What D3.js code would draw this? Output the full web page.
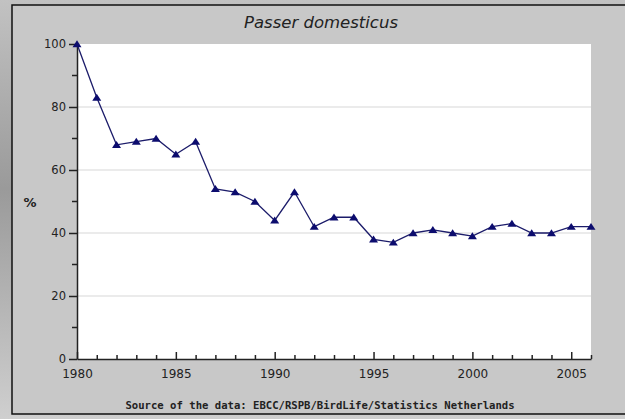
<meta charset="utf-8">
<title>Passer domesticus</title>
<style>
  body { margin: 0; background: #9c9c9c; }
  svg { display: block; }
</style>
<svg width="625" height="419"></svg>
<script src="https://d3js.org/d3.v7.min.js"></script>
<script>

// data
var years = d3.range(1980, 2007);
var index = [100, 83, 68, 69, 70, 65, 69, 54, 53, 50, 44, 53, 42, 45, 45,
             38, 37, 40, 41, 40, 39, 42, 43, 40, 40, 42, 42];
var yTicks = [0, 20, 40, 60, 80, 100];
var xLabels = [1980, 1985, 1990, 1995, 2000, 2005];
var title = "Passer domesticus";
var source = "Source of the data: EBCC/RSPB/BirdLife/Statistics Netherlands";

var data = years.map(function(y, i) { return { year: y, value: index[i] }; });

var svg = d3.select("svg");
var width = +svg.attr("width");
var height = +svg.attr("height");

// backdrop (photo behind the panel, just greys here)
var defs = svg.append("defs");
var bg = defs.append("linearGradient").attr("id", "bg")
    .attr("x1", 0).attr("y1", 0).attr("x2", 0).attr("y2", 1);
bg.append("stop").attr("offset", "0%").attr("stop-color", "#c2c2c2");
bg.append("stop").attr("offset", "45%").attr("stop-color", "#9a9a9a");
bg.append("stop").attr("offset", "100%").attr("stop-color", "#cfcfcf");
svg.append("rect").attr("width", width).attr("height", height).attr("fill", "url(#bg)");

// gray panel (runs off the right edge)
var panel = { left: 12, top: 5, bottom: 414 };
svg.append("rect")
    .attr("x", panel.left).attr("y", panel.top)
    .attr("width", width - panel.left + 20).attr("height", panel.bottom - panel.top)
    .attr("fill", "#c8c8c8")
    .attr("stroke", "#111").attr("stroke-width", 1.5);

var margin = { left: 77, right: 591, top: 44, bottom: 359 };

var x = d3.scaleLinear().domain([1980, 2006]).range([margin.left, margin.right]);
var y = d3.scaleLinear().domain([0, 100]).range([margin.bottom, margin.top]);

// plot area
svg.append("rect")
    .attr("x", margin.left).attr("y", margin.top)
    .attr("width", margin.right - margin.left).attr("height", margin.bottom - margin.top)
    .attr("fill", "#fff");

// gridlines
svg.append("g")
    .selectAll("line")
    .data(yTicks.filter(function(d) { return d > 0 && d < 100; }))
    .enter().append("line")
    .attr("x1", margin.left).attr("x2", margin.right)
    .attr("y1", function(d) { return y(d); })
    .attr("y2", function(d) { return y(d); })
    .attr("stroke", "#e4e4e4").attr("stroke-width", 1.5);

// y axis
var yAxis = svg.append("g")
    .attr("transform", "translate(" + margin.left + ",0)")
    .call(d3.axisLeft(y).tickValues(yTicks).tickSize(8).tickPadding(3).tickSizeOuter(0));
yAxis.selectAll(".tick text").style("font-family", "DejaVu Sans").style("font-size", "11.5px").attr("fill", "#222");

// minor y ticks
svg.append("g")
    .selectAll("line")
    .data(d3.range(10, 100, 20))
    .enter().append("line")
    .attr("x1", margin.left - 5).attr("x2", margin.left)
    .attr("y1", function(d) { return y(d); })
    .attr("y2", function(d) { return y(d); })
    .attr("stroke", "#222").attr("stroke-width", 1.5);

// x axis, ticks pointing up into the plot
var xAxis = svg.append("g")
    .attr("transform", "translate(0," + margin.bottom + ")")
    .call(d3.axisBottom(x).tickValues(years).tickSize(-4).tickSizeOuter(0)
        .tickFormat(function(d) { return xLabels.indexOf(d) >= 0 ? d : ""; }));
xAxis.selectAll(".tick line")
    .attr("y2", function(d) { return xLabels.indexOf(d) >= 0 ? -7 : -4; });
xAxis.selectAll(".tick text")
    .attr("y", 10)
    .style("font-family", "DejaVu Sans").style("font-size", "12px").attr("fill", "#222");

svg.selectAll(".domain").attr("stroke", "#222").attr("stroke-width", 1.5);
svg.selectAll(".tick line").attr("stroke", "#222").attr("stroke-width", 1.5);

// series line
svg.append("path")
    .datum(data)
    .attr("fill", "none")
    .attr("stroke", "#1c1c6a")
    .attr("stroke-width", 1.3)
    .attr("d", d3.line().x(function(d) { return x(d.year); }).y(function(d) { return y(d.value); }));

// squat triangle markers, 9 wide and 7 tall
var squatTriangle = {
    draw: function(context, size) {
        var w = Math.sqrt(size) / 2;
        context.moveTo(0, -w * 0.85);
        context.lineTo(w, w * 0.7);
        context.lineTo(-w, w * 0.7);
        context.closePath();
    }
};
var tri = d3.symbol().type(squatTriangle).size(81);
svg.append("g")
    .selectAll("path")
    .data(data)
    .enter().append("path")
    .attr("d", tri)
    .attr("transform", function(d) { return "translate(" + x(d.year) + "," + y(d.value) + ")"; })
    .attr("fill", "#0c0c6e");

// title
svg.append("text")
    .attr("x", 321).attr("y", 28)
    .attr("text-anchor", "middle")
    .style("font-family", "DejaVu Sans").style("font-size", "16.5px").style("font-style", "italic")
    .attr("fill", "#222")
    .text(title);

// y label
svg.append("text")
    .attr("x", 30).attr("y", 207)
    .attr("text-anchor", "middle")
    .style("font-family", "DejaVu Sans").style("font-size", "13px").style("font-weight", "bold")
    .attr("fill", "#222")
    .text("%");

// source
svg.append("text")
    .attr("x", 320).attr("y", 409)
    .attr("text-anchor", "middle")
    .style("font-family", "DejaVu Sans Mono").style("font-size", "10.6px").style("font-weight", "bold")
    .attr("fill", "#222")
    .text(source);

</script>
